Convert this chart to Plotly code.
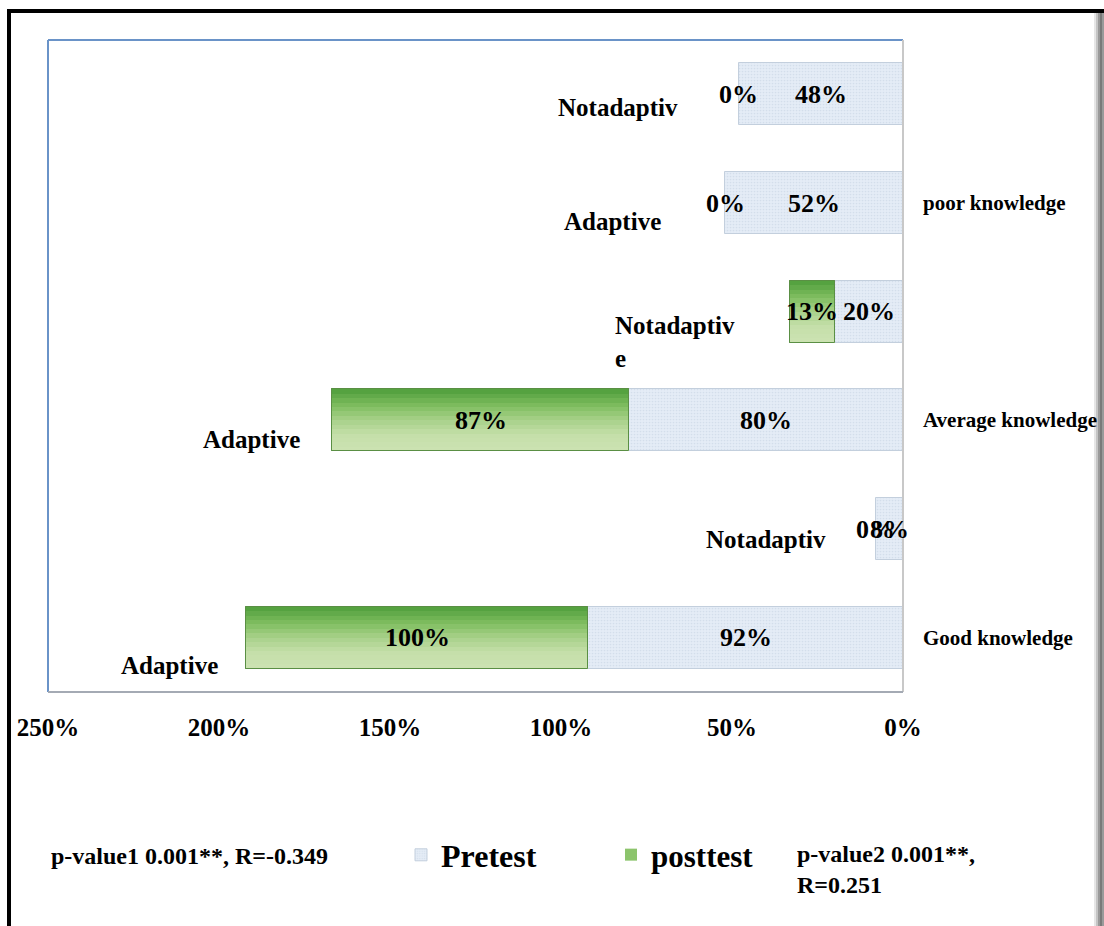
import plotly.graph_objects as go

# ---- data -------------------------------------------------------------
categories = ["Notadaptiv", "Adaptive", "Notadaptiv<br>e", "Adaptive", "Notadaptiv", "Adaptive"]
pretest = [48, 52, 20, 80, 8, 92]
posttest = [0, 0, 13, 87, 0, 100]
knowledge_groups = ["poor knowledge", "Average knowledge", "Good knowledge"]
knowledge_rows = [1, 3, 5]
tick_values = [0, 50, 100, 150, 200, 250]
tick_labels = ["0%", "50%", "100%", "150%", "200%", "250%"]
p_value1_text = "p-value1 0.001**, R=-0.349"
p_value2_text = "p-value2 0.001**,<br>R=0.251"

# ---- layout constants -------------------------------------------------
W, H = 1104, 926
ML, MR, MT, MB = 48, 201, 40, 234
PW, PH = W - ML - MR, H - MT - MB
BAR_W = 0.57
FONT = "Liberation Serif, Times New Roman, serif"

# label placement next to each bar end (px)
label_dx = [-59, -62, -53, -30, -48, -26]
label_dy = [-13, -18, -30, -19, -10, -28]


def px_x(px):
    return (px - ML) / PW


def px_y(py):
    return (H - MB - py) / PH


def mix(c1, c2, t):
    a = [int(c1[i:i + 2], 16) for i in (1, 3, 5)]
    b = [int(c2[i:i + 2], 16) for i in (1, 3, 5)]
    return "#" + "".join(f"{round(a[k] + (b[k] - a[k]) * t):02x}" for k in range(3))


rows = list(range(len(categories)))
totals = [p + q for p, q in zip(pretest, posttest)]
# no outline on empty posttest segments
post_line_w = [1 if v > 0 else 0 for v in posttest]

fig = go.Figure()

# Pretest bars (dotted light blue-grey)
fig.add_trace(go.Bar(
    y=rows, x=pretest, orientation="h", name="Pretest", width=BAR_W,
    marker=dict(color="#e2eaf4",
                line=dict(color="#c3cfdd", width=1),
                pattern=dict(shape=".", size=3, solidity=0.25,
                             fgcolor="#c2cfdf", bgcolor="#e4ecf6")),
    legend="legend", hoverinfo="skip",
))

# Posttest bars stacked on the pretest value, green top-to-bottom gradient
fig.add_trace(go.Bar(
    y=rows, x=posttest, base=pretest, orientation="h", name="posttest", width=BAR_W,
    marker=dict(color="#8cc46c", line=dict(color="#5a8f44", width=post_line_w)),
    legend="legend2", hoverinfo="skip",
))
n_bands = 14
stops = ["#55a240", "#7fbd5f", "#a8d18a", "#c4dfa9", "#cbe2b1"]
for i in range(n_bands):
    t = i / (n_bands - 1) * (len(stops) - 1)
    k = min(int(t), len(stops) - 2)
    color = mix(stops[k], stops[k + 1], t - k)
    fig.add_trace(go.Bar(
        y=rows, x=posttest, base=pretest, orientation="h",
        width=BAR_W / n_bands, offset=-BAR_W / 2 + i * BAR_W / n_bands,
        marker=dict(color=color, line=dict(width=0)),
        showlegend=False, hoverinfo="skip",
    ))
fig.add_trace(go.Bar(
    y=rows, x=posttest, base=pretest, orientation="h", width=BAR_W,
    marker=dict(color="rgba(0,0,0,0)", line=dict(color="#5a8f44", width=post_line_w)),
    showlegend=False, hoverinfo="skip",
))

annotations = []
val_font = dict(family=FONT, size=26, color="black", weight="bold")
lab_font = dict(family=FONT, size=25, color="black", weight="bold")
note_font = dict(family=FONT, size=24, color="black", weight="bold")

# value labels
for r in rows:
    annotations.append(dict(x=pretest[r] / 2, y=r, xref="x", yref="y",
                            text=f"{pretest[r]}%", showarrow=False, font=val_font))
    annotations.append(dict(x=pretest[r] + posttest[r] / 2, y=r, xref="x", yref="y",
                            text=f"{posttest[r]}%", showarrow=False, font=val_font))

# category labels beside the bar ends
for r in rows:
    annotations.append(dict(x=totals[r], y=r, xref="x", yref="y", text=categories[r],
                            showarrow=False, xanchor="right", align="left",
                            xshift=label_dx[r], yshift=label_dy[r], font=lab_font))

# knowledge group labels on the right
for g, r in zip(knowledge_groups, knowledge_rows):
    annotations.append(dict(x=1, y=r, xref="paper", yref="y", text=g, showarrow=False,
                            xanchor="left", xshift=18,
                            font=dict(family=FONT, size=21, color="black", weight="bold")))

# statistics notes
annotations.append(dict(x=px_x(49), y=px_y(856), xref="paper", yref="paper",
                        text=p_value1_text, showarrow=False, xanchor="left", yanchor="middle",
                        font=note_font))
annotations.append(dict(x=px_x(795), y=px_y(869), xref="paper", yref="paper",
                        text=p_value2_text, showarrow=False, xanchor="left", yanchor="middle",
                        align="left", font=note_font))

shapes = []
# plot area frame
shapes.append(dict(type="line", xref="paper", yref="paper", x0=0, x1=1, y0=1, y1=1,
                   line=dict(color="#6a93c8", width=2)))
shapes.append(dict(type="line", xref="paper", yref="paper", x0=0, x1=0, y0=0, y1=1,
                   line=dict(color="#6a93c8", width=2)))
shapes.append(dict(type="line", xref="paper", yref="paper", x0=1, x1=1, y0=0, y1=1,
                   line=dict(color="#c8c8c8", width=2)))
shapes.append(dict(type="line", xref="paper", yref="paper", x0=0, x1=1, y0=0, y1=0,
                   line=dict(color="#a4aab4", width=2)))
# outer frame
shapes.append(dict(type="line", xref="paper", yref="paper",
                   x0=px_x(7), x1=px_x(1104), y0=px_y(11), y1=px_y(11),
                   line=dict(color="black", width=4)))
shapes.append(dict(type="line", xref="paper", yref="paper",
                   x0=px_x(9), x1=px_x(9), y0=px_y(9), y1=px_y(930),
                   line=dict(color="black", width=4)))
for xp, c in [(1095, "#e6e6e6"), (1097, "#c4c4c4"), (1099, "#9a9a9a"), (1101, "#7a7a7a"), (1103, "#9a9a9a")]:
    shapes.append(dict(type="line", xref="paper", yref="paper",
                       x0=px_x(xp), x1=px_x(xp), y0=px_y(13), y1=px_y(930),
                       line=dict(color=c, width=2)))

fig.update_layout(
    width=W, height=H,
    margin=dict(l=ML, r=MR, t=MT, b=MB),
    paper_bgcolor="white", plot_bgcolor="white",
    barmode="overlay",
    bargap=0,
    xaxis=dict(range=[250, 0], tickvals=tick_values, ticktext=tick_labels,
               showgrid=False, zeroline=False, showline=False, ticks="",
               ticklabelstandoff=18,
               tickfont=dict(family=FONT, size=25, color="black", weight="bold")),
    yaxis=dict(range=[5.5, -0.5], showticklabels=False, showgrid=False,
               zeroline=False, showline=False, ticks=""),
    legend=dict(orientation="h", x=px_x(401), y=px_y(855), xanchor="left", yanchor="middle",
                bgcolor="rgba(0,0,0,0)",
                font=dict(family=FONT, size=32, color="black", weight="bold")),
    legend2=dict(orientation="h", x=px_x(611), y=px_y(855), xanchor="left", yanchor="middle",
                 bgcolor="rgba(0,0,0,0)",
                 font=dict(family=FONT, size=31, color="black", weight="bold")),
    annotations=annotations,
    shapes=shapes,
    showlegend=True,
)

fig.write_html("out.html", config={"displayModeBar": False})
